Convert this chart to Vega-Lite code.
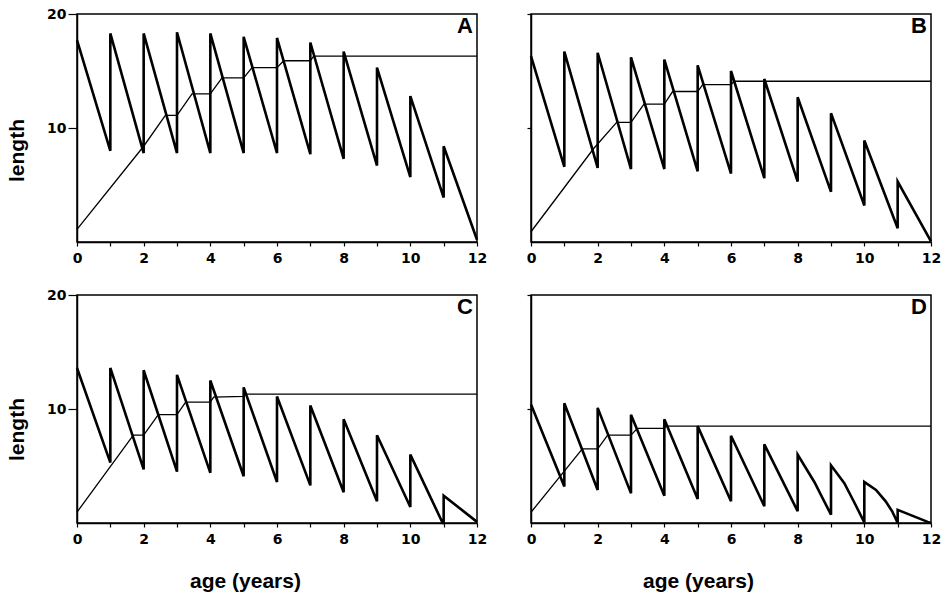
{
  "$schema": "https://vega.github.io/schema/vega-lite/v6.json",
  "padding": {"left": 5, "top": 6, "right": 5, "bottom": 5},
  "background": "white",
  "config": {
    "view": {"stroke": "black", "strokeWidth": 1.5},
    "axis": {
      "grid": false,
      "domainColor": "black", "domainWidth": 1.5,
      "tickColor": "black", "tickWidth": 1.2,
      "labelColor": "black", "titleColor": "black",
      "labelFont": "DejaVu Sans", "labelFontWeight": "bold", "labelFontSize": 14,
      "titleFont": "Liberation Sans", "titleFontWeight": "bold", "titleFontSize": 21
    }
  },
  "data": {"values": [
    {"p":"A","s":"saw","i":0,"age":0,"len":17.7},{"p":"A","s":"saw","i":1,"age":1,"len":8.0},{"p":"A","s":"saw","i":2,"age":1,"len":18.3},{"p":"A","s":"saw","i":3,"age":2,"len":7.8},{"p":"A","s":"saw","i":4,"age":2,"len":18.3},{"p":"A","s":"saw","i":5,"age":3,"len":7.8},{"p":"A","s":"saw","i":6,"age":3,"len":18.4},{"p":"A","s":"saw","i":7,"age":4,"len":7.8},{"p":"A","s":"saw","i":8,"age":4,"len":18.3},{"p":"A","s":"saw","i":9,"age":5,"len":7.8},{"p":"A","s":"saw","i":10,"age":5,"len":18.0},{"p":"A","s":"saw","i":11,"age":6,"len":7.8},{"p":"A","s":"saw","i":12,"age":6,"len":17.9},{"p":"A","s":"saw","i":13,"age":7,"len":7.7},{"p":"A","s":"saw","i":14,"age":7,"len":17.5},{"p":"A","s":"saw","i":15,"age":8,"len":7.3},{"p":"A","s":"saw","i":16,"age":8,"len":16.7},{"p":"A","s":"saw","i":17,"age":9,"len":6.7},{"p":"A","s":"saw","i":18,"age":9,"len":15.3},{"p":"A","s":"saw","i":19,"age":10,"len":5.7},{"p":"A","s":"saw","i":20,"age":10,"len":12.8},{"p":"A","s":"saw","i":21,"age":11,"len":3.9},{"p":"A","s":"saw","i":22,"age":11,"len":8.4},{"p":"A","s":"saw","i":23,"age":12,"len":0.2},
    {"p":"A","s":"grow","i":0,"age":0,"len":1.1},{"p":"A","s":"grow","i":1,"age":2,"len":8.4},{"p":"A","s":"grow","i":2,"age":2.65,"len":11.1},{"p":"A","s":"grow","i":3,"age":3,"len":11.1},{"p":"A","s":"grow","i":4,"age":3.45,"len":13.0},{"p":"A","s":"grow","i":5,"age":4,"len":13.0},{"p":"A","s":"grow","i":6,"age":4.35,"len":14.4},{"p":"A","s":"grow","i":7,"age":5,"len":14.4},{"p":"A","s":"grow","i":8,"age":5.25,"len":15.3},{"p":"A","s":"grow","i":9,"age":6,"len":15.3},{"p":"A","s":"grow","i":10,"age":6.2,"len":15.9},{"p":"A","s":"grow","i":11,"age":7,"len":15.9},{"p":"A","s":"grow","i":12,"age":7.1,"len":16.3},{"p":"A","s":"grow","i":13,"age":12,"len":16.3},
    {"p":"B","s":"saw","i":0,"age":0,"len":16.3},{"p":"B","s":"saw","i":1,"age":1,"len":6.6},{"p":"B","s":"saw","i":2,"age":1,"len":16.7},{"p":"B","s":"saw","i":3,"age":2,"len":6.5},{"p":"B","s":"saw","i":4,"age":2,"len":16.6},{"p":"B","s":"saw","i":5,"age":3,"len":6.4},{"p":"B","s":"saw","i":6,"age":3,"len":16.2},{"p":"B","s":"saw","i":7,"age":4,"len":6.4},{"p":"B","s":"saw","i":8,"age":4,"len":16.0},{"p":"B","s":"saw","i":9,"age":5,"len":6.2},{"p":"B","s":"saw","i":10,"age":5,"len":15.5},{"p":"B","s":"saw","i":11,"age":6,"len":6.0},{"p":"B","s":"saw","i":12,"age":6,"len":15.0},{"p":"B","s":"saw","i":13,"age":7,"len":5.6},{"p":"B","s":"saw","i":14,"age":7,"len":14.3},{"p":"B","s":"saw","i":15,"age":8,"len":5.3},{"p":"B","s":"saw","i":16,"age":8,"len":12.7},{"p":"B","s":"saw","i":17,"age":9,"len":4.4},{"p":"B","s":"saw","i":18,"age":9,"len":11.3},{"p":"B","s":"saw","i":19,"age":10,"len":3.2},{"p":"B","s":"saw","i":20,"age":10,"len":8.9},{"p":"B","s":"saw","i":21,"age":11,"len":1.2},{"p":"B","s":"saw","i":22,"age":11,"len":5.3},{"p":"B","s":"saw","i":23,"age":12,"len":0.05},
    {"p":"B","s":"grow","i":0,"age":0,"len":0.9},{"p":"B","s":"grow","i":1,"age":1.88,"len":8.2},{"p":"B","s":"grow","i":2,"age":2.57,"len":10.5},{"p":"B","s":"grow","i":3,"age":3,"len":10.5},{"p":"B","s":"grow","i":4,"age":3.39,"len":12.1},{"p":"B","s":"grow","i":5,"age":4,"len":12.1},{"p":"B","s":"grow","i":6,"age":4.25,"len":13.2},{"p":"B","s":"grow","i":7,"age":5,"len":13.2},{"p":"B","s":"grow","i":8,"age":5.15,"len":13.8},{"p":"B","s":"grow","i":9,"age":6,"len":13.8},{"p":"B","s":"grow","i":10,"age":6.1,"len":14.1},{"p":"B","s":"grow","i":11,"age":12,"len":14.1},
    {"p":"C","s":"saw","i":0,"age":0,"len":13.6},{"p":"C","s":"saw","i":1,"age":1,"len":5.3},{"p":"C","s":"saw","i":2,"age":1,"len":13.6},{"p":"C","s":"saw","i":3,"age":2,"len":4.7},{"p":"C","s":"saw","i":4,"age":2,"len":13.4},{"p":"C","s":"saw","i":5,"age":3,"len":4.5},{"p":"C","s":"saw","i":6,"age":3,"len":13.0},{"p":"C","s":"saw","i":7,"age":4,"len":4.4},{"p":"C","s":"saw","i":8,"age":4,"len":12.5},{"p":"C","s":"saw","i":9,"age":5,"len":4.1},{"p":"C","s":"saw","i":10,"age":5,"len":11.9},{"p":"C","s":"saw","i":11,"age":6,"len":3.6},{"p":"C","s":"saw","i":12,"age":6,"len":11.1},{"p":"C","s":"saw","i":13,"age":7,"len":3.3},{"p":"C","s":"saw","i":14,"age":7,"len":10.3},{"p":"C","s":"saw","i":15,"age":8,"len":2.7},{"p":"C","s":"saw","i":16,"age":8,"len":9.1},{"p":"C","s":"saw","i":17,"age":9,"len":1.9},{"p":"C","s":"saw","i":18,"age":9,"len":7.7},{"p":"C","s":"saw","i":19,"age":10,"len":1.4},{"p":"C","s":"saw","i":20,"age":10,"len":6.0},{"p":"C","s":"saw","i":21,"age":10.97,"len":0},{"p":"C","s":"saw","i":22,"age":11,"len":0},{"p":"C","s":"saw","i":23,"age":11,"len":2.4},{"p":"C","s":"saw","i":24,"age":12,"len":0.1},
    {"p":"C","s":"grow","i":0,"age":0,"len":0.95},{"p":"C","s":"grow","i":1,"age":1.69,"len":7.7},{"p":"C","s":"grow","i":2,"age":2,"len":7.7},{"p":"C","s":"grow","i":3,"age":2.44,"len":9.5},{"p":"C","s":"grow","i":4,"age":3,"len":9.5},{"p":"C","s":"grow","i":5,"age":3.26,"len":10.6},{"p":"C","s":"grow","i":6,"age":4,"len":10.6},{"p":"C","s":"grow","i":7,"age":4.1,"len":11.05},{"p":"C","s":"grow","i":8,"age":5,"len":11.1},{"p":"C","s":"grow","i":9,"age":5.05,"len":11.3},{"p":"C","s":"grow","i":10,"age":12,"len":11.3},
    {"p":"D","s":"saw","i":0,"age":0,"len":10.4},{"p":"D","s":"saw","i":1,"age":1,"len":3.2},{"p":"D","s":"saw","i":2,"age":1,"len":10.5},{"p":"D","s":"saw","i":3,"age":2,"len":2.9},{"p":"D","s":"saw","i":4,"age":2,"len":10.1},{"p":"D","s":"saw","i":5,"age":3,"len":2.6},{"p":"D","s":"saw","i":6,"age":3,"len":9.5},{"p":"D","s":"saw","i":7,"age":4,"len":2.4},{"p":"D","s":"saw","i":8,"age":4,"len":9.1},{"p":"D","s":"saw","i":9,"age":5,"len":2.1},{"p":"D","s":"saw","i":10,"age":5,"len":8.5},{"p":"D","s":"saw","i":11,"age":6,"len":1.9},{"p":"D","s":"saw","i":12,"age":6,"len":7.65},{"p":"D","s":"saw","i":13,"age":7,"len":1.47},{"p":"D","s":"saw","i":14,"age":7,"len":6.9},{"p":"D","s":"saw","i":15,"age":8,"len":1.03},{"p":"D","s":"saw","i":16,"age":8,"len":6.0},{"p":"D","s":"saw","i":17,"age":8.5,"len":3.6},{"p":"D","s":"saw","i":18,"age":9,"len":0.73},{"p":"D","s":"saw","i":19,"age":9,"len":5.06},{"p":"D","s":"saw","i":20,"age":9.4,"len":3.5},{"p":"D","s":"saw","i":21,"age":9.7,"len":1.8},{"p":"D","s":"saw","i":22,"age":10,"len":0.05},{"p":"D","s":"saw","i":23,"age":10,"len":3.6},{"p":"D","s":"saw","i":24,"age":10.35,"len":2.9},{"p":"D","s":"saw","i":25,"age":10.64,"len":1.9},{"p":"D","s":"saw","i":26,"age":10.84,"len":1.0},{"p":"D","s":"saw","i":27,"age":10.97,"len":0.2},{"p":"D","s":"saw","i":28,"age":11,"len":0},{"p":"D","s":"saw","i":29,"age":11,"len":1.15},{"p":"D","s":"saw","i":30,"age":11.9,"len":0.1},{"p":"D","s":"saw","i":31,"age":12,"len":0},
    {"p":"D","s":"grow","i":0,"age":0,"len":0.94},{"p":"D","s":"grow","i":1,"age":1.54,"len":6.5},{"p":"D","s":"grow","i":2,"age":2,"len":6.5},{"p":"D","s":"grow","i":3,"age":2.3,"len":7.7},{"p":"D","s":"grow","i":4,"age":3,"len":7.7},{"p":"D","s":"grow","i":5,"age":3.19,"len":8.3},{"p":"D","s":"grow","i":6,"age":4,"len":8.3},{"p":"D","s":"grow","i":7,"age":4.05,"len":8.5},{"p":"D","s":"grow","i":8,"age":12,"len":8.5}
  ]},
  "columns": 2,
  "spacing": {"row": 53, "column": 54},
  "bounds": "flush",
  "concat": [
    {
      "width": 400, "height": 228,
      "layer": [
        {"transform": [{"filter": "datum.p == 'A'"}], "mark": {"type": "line", "color": "black"},
         "encoding": {
           "x": {"field": "age", "type": "quantitative", "scale": {"domain": [0, 12], "nice": false},
                 "axis": {"values": [0,1,2,3,4,5,6,7,8,9,10,11,12], "labelExpr": "datum.value % 2 == 0 ? datum.label : ''", "title": null, "tickSize": 4, "labelPadding": 5, "labelFlush": false, "labelOverlap": false}},
           "y": {"field": "len", "type": "quantitative", "scale": {"domain": [0, 20], "nice": false},
                 "axis": {"values": [10, 20], "title": "length", "tickSize": 9, "labelPadding": 2, "titlePadding": 19, "titleY": 136}},
           "strokeWidth": {"field": "s", "type": "nominal", "scale": {"domain": ["saw", "grow"], "range": [2.6, 1.3]}, "legend": null},
           "order": {"field": "i", "type": "quantitative"}}},
        {"data": {"values": [{"label": "A"}]}, "mark": {"type": "text", "align": "right", "baseline": "top", "dx": -4, "dy": 2, "font": "Liberation Sans", "fontWeight": "bold", "fontSize": 22, "color": "black"},
         "encoding": {
           "x": {"datum": 12, "type": "quantitative", "scale": {"domain": [0, 12], "nice": false},
                 "axis": {"values": [0,1,2,3,4,5,6,7,8,9,10,11,12], "labelExpr": "datum.value % 2 == 0 ? datum.label : ''", "title": null, "tickSize": 4, "labelPadding": 5, "labelFlush": false, "labelOverlap": false}},
           "y": {"datum": 20, "type": "quantitative", "scale": {"domain": [0, 20], "nice": false},
                 "axis": {"values": [10, 20], "title": "length", "tickSize": 9, "labelPadding": 2, "titlePadding": 19, "titleY": 136}},
           "text": {"field": "label"}}}
      ]
    },
    {
      "width": 400, "height": 228,
      "layer": [
        {"transform": [{"filter": "datum.p == 'B'"}], "mark": {"type": "line", "color": "black"},
         "encoding": {
           "x": {"field": "age", "type": "quantitative", "scale": {"domain": [0, 12], "nice": false},
                 "axis": {"values": [0,1,2,3,4,5,6,7,8,9,10,11,12], "labelExpr": "datum.value % 2 == 0 ? datum.label : ''", "title": null, "tickSize": 4, "labelPadding": 5, "labelFlush": false, "labelOverlap": false}},
           "y": {"field": "len", "type": "quantitative", "scale": {"domain": [0, 20], "nice": false},
                 "axis": {"values": [10, 20], "labels": false, "title": null, "tickSize": 4}},
           "strokeWidth": {"field": "s", "type": "nominal", "scale": {"domain": ["saw", "grow"], "range": [2.6, 1.3]}, "legend": null},
           "order": {"field": "i", "type": "quantitative"}}},
        {"data": {"values": [{"label": "B"}]}, "mark": {"type": "text", "align": "right", "baseline": "top", "dx": -4, "dy": 2, "font": "Liberation Sans", "fontWeight": "bold", "fontSize": 22, "color": "black"},
         "encoding": {
           "x": {"datum": 12, "type": "quantitative", "scale": {"domain": [0, 12], "nice": false},
                 "axis": {"values": [0,1,2,3,4,5,6,7,8,9,10,11,12], "labelExpr": "datum.value % 2 == 0 ? datum.label : ''", "title": null, "tickSize": 4, "labelPadding": 5, "labelFlush": false, "labelOverlap": false}},
           "y": {"datum": 20, "type": "quantitative", "scale": {"domain": [0, 20], "nice": false},
                 "axis": {"values": [10, 20], "labels": false, "title": null, "tickSize": 4}},
           "text": {"field": "label"}}}
      ]
    },
    {
      "width": 400, "height": 228,
      "layer": [
        {"transform": [{"filter": "datum.p == 'C'"}], "mark": {"type": "line", "color": "black"},
         "encoding": {
           "x": {"field": "age", "type": "quantitative", "scale": {"domain": [0, 12], "nice": false},
                 "axis": {"values": [0,1,2,3,4,5,6,7,8,9,10,11,12], "labelExpr": "datum.value % 2 == 0 ? datum.label : ''", "title": "age (years)", "titleX": 168, "titlePadding": 24, "tickSize": 4, "labelPadding": 5, "labelFlush": false, "labelOverlap": false}},
           "y": {"field": "len", "type": "quantitative", "scale": {"domain": [0, 20], "nice": false},
                 "axis": {"values": [10, 20], "title": "length", "tickSize": 9, "labelPadding": 2, "titlePadding": 19, "titleY": 134}},
           "strokeWidth": {"field": "s", "type": "nominal", "scale": {"domain": ["saw", "grow"], "range": [2.6, 1.3]}, "legend": null},
           "order": {"field": "i", "type": "quantitative"}}},
        {"data": {"values": [{"label": "C"}]}, "mark": {"type": "text", "align": "right", "baseline": "top", "dx": -4, "dy": 2, "font": "Liberation Sans", "fontWeight": "bold", "fontSize": 22, "color": "black"},
         "encoding": {
           "x": {"datum": 12, "type": "quantitative", "scale": {"domain": [0, 12], "nice": false},
                 "axis": {"values": [0,1,2,3,4,5,6,7,8,9,10,11,12], "labelExpr": "datum.value % 2 == 0 ? datum.label : ''", "title": "age (years)", "titleX": 168, "titlePadding": 24, "tickSize": 4, "labelPadding": 5, "labelFlush": false, "labelOverlap": false}},
           "y": {"datum": 20, "type": "quantitative", "scale": {"domain": [0, 20], "nice": false},
                 "axis": {"values": [10, 20], "title": "length", "tickSize": 9, "labelPadding": 2, "titlePadding": 19, "titleY": 134}},
           "text": {"field": "label"}}}
      ]
    },
    {
      "width": 400, "height": 228,
      "layer": [
        {"transform": [{"filter": "datum.p == 'D'"}], "mark": {"type": "line", "color": "black"},
         "encoding": {
           "x": {"field": "age", "type": "quantitative", "scale": {"domain": [0, 12], "nice": false},
                 "axis": {"values": [0,1,2,3,4,5,6,7,8,9,10,11,12], "labelExpr": "datum.value % 2 == 0 ? datum.label : ''", "title": "age (years)", "titleX": 167, "titlePadding": 24, "tickSize": 4, "labelPadding": 5, "labelFlush": false, "labelOverlap": false}},
           "y": {"field": "len", "type": "quantitative", "scale": {"domain": [0, 20], "nice": false},
                 "axis": {"values": [10, 20], "labels": false, "title": null, "tickSize": 4}},
           "strokeWidth": {"field": "s", "type": "nominal", "scale": {"domain": ["saw", "grow"], "range": [2.6, 1.3]}, "legend": null},
           "order": {"field": "i", "type": "quantitative"}}},
        {"data": {"values": [{"label": "D"}]}, "mark": {"type": "text", "align": "right", "baseline": "top", "dx": -4, "dy": 2, "font": "Liberation Sans", "fontWeight": "bold", "fontSize": 22, "color": "black"},
         "encoding": {
           "x": {"datum": 12, "type": "quantitative", "scale": {"domain": [0, 12], "nice": false},
                 "axis": {"values": [0,1,2,3,4,5,6,7,8,9,10,11,12], "labelExpr": "datum.value % 2 == 0 ? datum.label : ''", "title": "age (years)", "titleX": 167, "titlePadding": 24, "tickSize": 4, "labelPadding": 5, "labelFlush": false, "labelOverlap": false}},
           "y": {"datum": 20, "type": "quantitative", "scale": {"domain": [0, 20], "nice": false},
                 "axis": {"values": [10, 20], "labels": false, "title": null, "tickSize": 4}},
           "text": {"field": "label"}}}
      ]
    }
  ]
}
